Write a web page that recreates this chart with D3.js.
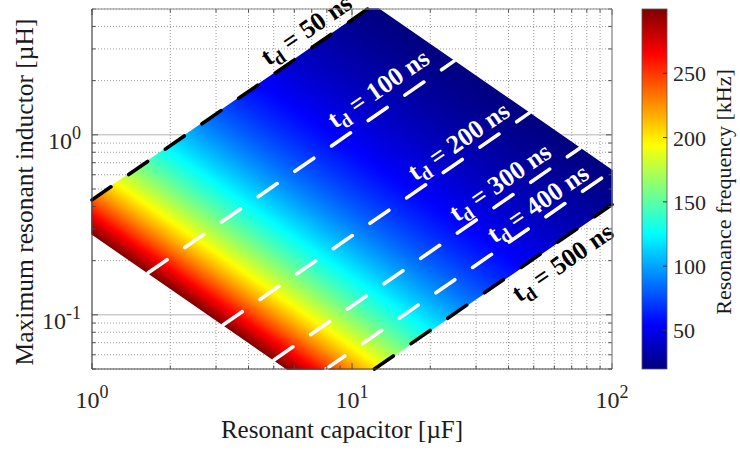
<!DOCTYPE html>
<html>
<head>
<meta charset="utf-8">
<script src="https://cdn.jsdelivr.net/npm/d3@7"></script>
<style>
  body { margin: 0; background: #fff; }
  svg text { font-family: "Liberation Serif", "Times New Roman", serif; white-space: pre; }
</style>
</head>
<body>
<svg id="chart" width="740" height="450"></svg>
<script>
// Resonant capacitor range [µF] and maximum resonant inductor range [µH]
const capacitorDomain = [1, 100];
const inductorDomain = [0.05, 5];
// Resonance frequency limits of the design space [kHz]
const frequencyLimits = [20, 300];
// Dead-time curves: dead time [ns] and the maximum inductor they allow at C = 1 µF [µH]
const deadTimes = [50, 100, 200, 300, 400, 500];
const inductorAt1uF = [0.435, 0.104, 0.0275, 0.0112, 0.0063, 0.0041];
// Tick values
const xTickExponents = [0, 1, 2];
const yTickExponents = [-1, 0];
const colorTicks = [50, 100, 150, 200, 250];

// Label placement along each dead-time curve (capacitor value at label centre, offset in px)
const labelPlacement = [
  { at: 7.3, offset: 9.5, color: "#000" },
  { at: 14.0, offset: 12, color: "#fff" },
  { at: 28.0, offset: 8.5, color: "#fff" },
  { at: 40.5, offset: 9, color: "#fff" },
  { at: 56.0, offset: 7, color: "#fff" },
  { at: 58.5, offset: -28, color: "#000" }
];
const lineColors = ["#000", "#fff", "#fff", "#fff", "#fff", "#000"];

const plot = { left: 92, right: 612, top: 9, bottom: 369 };
const bar = { left: 642, width: 25 };

const svg = d3.select("#chart");
const defs = svg.append("defs");

const x = d3.scaleLog().domain(capacitorDomain).range([plot.left, plot.right]);
const y = d3.scaleLog().domain(inductorDomain).range([plot.bottom, plot.top]);
const cbar = d3.scaleLinear().domain(frequencyLimits).range([plot.bottom, plot.top]);

// MATLAB-style jet colormap, t in [0, 1]
function jet(t) {
  const cl = v => Math.max(0, Math.min(1, v));
  const r = cl(1.5 - Math.abs(4 * t - 3));
  const g = cl(1.5 - Math.abs(4 * t - 2));
  const b = cl(1.5 - Math.abs(4 * t - 1));
  return d3.rgb(r * 255, g * 255, b * 255).formatHex();
}
const colorOf = f => jet((f - frequencyLimits[0]) / (frequencyLimits[1] - frequencyLimits[0]));

// L·C product [µH·µF] giving resonance frequency f [kHz]
const lcFromF = f => Math.pow(1e3 / (2 * Math.PI * f), 2);
const lg = Math.log10;

// ---------- grid ----------
const gridG = svg.append("g");
const xAll = x.ticks();
const yAll = y.ticks();
const isDecade = v => Math.abs(lg(v) - Math.round(lg(v))) < 1e-9;

gridG.selectAll("line.xminor").data(xAll.filter(v => !isDecade(v)))
  .join("line")
  .attr("x1", d => x(d)).attr("x2", d => x(d))
  .attr("y1", plot.top).attr("y2", plot.bottom)
  .attr("stroke", "#9a9a9a").attr("stroke-width", 1).attr("stroke-dasharray", "1,2");
gridG.selectAll("line.yminor").data(yAll.filter(v => !isDecade(v)))
  .join("line")
  .attr("y1", d => y(d)).attr("y2", d => y(d))
  .attr("x1", plot.left).attr("x2", plot.right)
  .attr("stroke", "#9a9a9a").attr("stroke-width", 1).attr("stroke-dasharray", "1,2");
gridG.selectAll("line.xmajor").data(xAll.filter(isDecade))
  .join("line")
  .attr("x1", d => x(d)).attr("x2", d => x(d))
  .attr("y1", plot.top).attr("y2", plot.bottom)
  .attr("stroke", "#b4b4b4").attr("stroke-width", 1);
gridG.selectAll("line.ymajor").data(yAll.filter(isDecade))
  .join("line")
  .attr("y1", d => y(d)).attr("y2", d => y(d))
  .attr("x1", plot.left).attr("x2", plot.right)
  .attr("stroke", "#b4b4b4").attr("stroke-width", 1);

// ---------- design region (log space half-plane clipping) ----------
const logK = inductorAt1uF.map(lg);
const uMin = lg(lcFromF(frequencyLimits[1]));
const uMax = lg(lcFromF(frequencyLimits[0]));
const aMin = lg(capacitorDomain[0]), aMax = lg(capacitorDomain[1]);
const bMin = lg(inductorDomain[0]), bMax = lg(inductorDomain[1]);

// each constraint: p*a + q*b <= r
const constraints = [
  [-1, 0, -aMin], [1, 0, aMax],
  [0, -1, -bMin], [0, 1, bMax],
  [-1, -1, -uMin], [1, 1, uMax],
  [-1, 1, d3.max(logK)], [1, -1, -d3.min(logK)]
];
let poly = [[aMin, bMin], [aMax, bMin], [aMax, bMax], [aMin, bMax]];
constraints.forEach(([p, q, r]) => {
  const out = [];
  const val = pt => p * pt[0] + q * pt[1] - r;
  for (let i = 0; i < poly.length; i++) {
    const A = poly[i], B = poly[(i + 1) % poly.length];
    const va = val(A), vb = val(B);
    if (va <= 0) out.push(A);
    if ((va < 0 && vb > 0) || (va > 0 && vb < 0)) {
      const t = va / (va - vb);
      out.push([A[0] + t * (B[0] - A[0]), A[1] + t * (B[1] - A[1])]);
    }
  }
  poly = out;
});
const regionPts = poly.map(([a, b]) => [x(Math.pow(10, a)), y(Math.pow(10, b))]);

// gradient running across lines of constant L·C
const pA = [x(1), y(Math.pow(10, uMin))];
const gx = 1 / (x(10) - x(1));
const gy = 1 / (y(10) - y(1));
const g2 = gx * gx + gy * gy;
const pB = [pA[0] + (uMax - uMin) * gx / g2, pA[1] + (uMax - uMin) * gy / g2];
const regionGrad = defs.append("linearGradient").attr("id", "regionGrad")
  .attr("gradientUnits", "userSpaceOnUse")
  .attr("x1", pA[0]).attr("y1", pA[1]).attr("x2", pB[0]).attr("y2", pB[1]);
const fSamples = d3.range(frequencyLimits[1], frequencyLimits[0] - 0.01, -2);
regionGrad.selectAll("stop").data(fSamples).join("stop")
  .attr("offset", f => (lg(lcFromF(f)) - uMin) / (uMax - uMin))
  .attr("stop-color", f => colorOf(f));

svg.append("path")
  .attr("d", d3.line()(regionPts) + "Z")
  .attr("fill", "url(#regionGrad)")
  .attr("stroke", "url(#regionGrad)")
  .attr("stroke-width", 1.5)
  .attr("stroke-linejoin", "round");

// ---------- dead-time curves ----------
const curves = deadTimes.map((td, i) => {
  const c = logK[i];
  const a0 = Math.max(aMin, bMin - c, (uMin - c) / 2);
  const a1 = Math.min(aMax, bMax - c, (uMax - c) / 2);
  return { td, i, pts: [[Math.pow(10, a0), Math.pow(10, a0 + c)], [Math.pow(10, a1), Math.pow(10, a1 + c)]] };
});
svg.append("g").selectAll("path").data(curves).join("path")
  .attr("d", d => d3.line().x(p => x(p[0])).y(p => y(p[1]))(d.pts))
  .attr("fill", "none")
  .attr("stroke", d => lineColors[d.i])
  .attr("stroke-width", 3.6)
  .attr("stroke-linecap", "round")
  .attr("stroke-dasharray", "23,21.6");

// ---------- curve labels ----------
const angle = Math.atan2(y(10) - y(1), x(10) - x(1)) * 180 / Math.PI;
const labelG = svg.append("g");
curves.forEach(d => {
  const lp = labelPlacement[d.i];
  const c = lp.at, l = c * inductorAt1uF[d.i];
  const t = labelG.append("text")
    .attr("transform", `translate(${x(c)},${y(l)}) rotate(${angle})`)
    .attr("x", 0).attr("y", -lp.offset)
    .attr("text-anchor", "middle")
    .attr("font-weight", "bold")
    .attr("font-size", 26)
    .attr("fill", lp.color);
  t.append("tspan").text("t");
  t.append("tspan").attr("dy", 6).attr("font-size", 19).text("d");
  t.append("tspan").attr("dy", -6).text(` = ${d.td} ns`);
});

// ---------- axes frame and ticks ----------
const frame = svg.append("g");
const tickCol = "#4d4d4d";
xAll.forEach(v => {
  const L = isDecade(v) ? 6 : 3.5;
  frame.append("line").attr("x1", x(v)).attr("x2", x(v)).attr("y1", plot.bottom).attr("y2", plot.bottom - L).attr("stroke", tickCol);
  frame.append("line").attr("x1", x(v)).attr("x2", x(v)).attr("y1", plot.top).attr("y2", plot.top + L).attr("stroke", tickCol);
});
yAll.forEach(v => {
  const L = isDecade(v) ? 6 : 3.5;
  frame.append("line").attr("y1", y(v)).attr("y2", y(v)).attr("x1", plot.left).attr("x2", plot.left + L).attr("stroke", tickCol);
  frame.append("line").attr("y1", y(v)).attr("y2", y(v)).attr("x1", plot.right).attr("x2", plot.right - L).attr("stroke", tickCol);
});
frame.append("line").attr("x1", plot.left).attr("x2", plot.right).attr("y1", plot.top).attr("y2", plot.top).attr("stroke", "#8c8c8c");
frame.append("line").attr("x1", plot.right).attr("x2", plot.right).attr("y1", plot.top).attr("y2", plot.bottom).attr("stroke", "#8c8c8c");
frame.append("line").attr("x1", plot.left).attr("x2", plot.right).attr("y1", plot.bottom).attr("y2", plot.bottom).attr("stroke", "#444");
frame.append("line").attr("x1", plot.left).attr("x2", plot.left).attr("y1", plot.top).attr("y2", plot.bottom).attr("stroke", "#444");

// tick labels
const txtCol = "#262626";
xTickExponents.forEach(e => {
  const t = frame.append("text").attr("x", x(Math.pow(10, e))).attr("y", 408)
    .attr("text-anchor", "middle").attr("font-size", 24).attr("fill", txtCol);
  t.append("tspan").text("10");
  t.append("tspan").attr("dy", -10).attr("font-size", 18).text(String(e));
});
yTickExponents.forEach(e => {
  const t = frame.append("text").attr("x", 81).attr("y", y(Math.pow(10, e)) + 14)
    .attr("text-anchor", "end").attr("font-size", 24).attr("fill", txtCol);
  t.append("tspan").text("10");
  t.append("tspan").attr("dy", -10).attr("font-size", 18).text(String(e));
});

// axis titles
svg.append("text").attr("x", 342).attr("y", 438).attr("text-anchor", "middle")
  .attr("font-size", 25).attr("fill", "#1a1a1a").text("Resonant capacitor [µF]");
svg.append("text").attr("transform", "translate(33,192) rotate(-90)").attr("text-anchor", "middle")
  .attr("font-size", 25.5).attr("fill", "#1a1a1a").text("Maximum resonant inductor [µH]");

// ---------- colorbar ----------
const barGrad = defs.append("linearGradient").attr("id", "barGrad")
  .attr("gradientUnits", "userSpaceOnUse")
  .attr("x1", 0).attr("y1", cbar(frequencyLimits[0])).attr("x2", 0).attr("y2", cbar(frequencyLimits[1]));
barGrad.selectAll("stop").data(d3.range(0, 1.0001, 0.02)).join("stop")
  .attr("offset", t => t).attr("stop-color", t => jet(t));
svg.append("rect").attr("x", bar.left).attr("y", plot.top)
  .attr("width", bar.width).attr("height", plot.bottom - plot.top)
  .attr("fill", "url(#barGrad)").attr("stroke", "#555").attr("stroke-width", 0.8);
const cbG = svg.append("g");
cbG.selectAll("line").data(colorTicks).join("line")
  .attr("x1", bar.left + bar.width).attr("x2", bar.left + bar.width - 4)
  .attr("y1", d => cbar(d)).attr("y2", d => cbar(d)).attr("stroke", "#333");
cbG.selectAll("text").data(colorTicks).join("text")
  .attr("x", bar.left + bar.width + 6).attr("y", d => cbar(d) + 8)
  .attr("font-size", 22).attr("fill", txtCol).text(d => d);
svg.append("text").attr("transform", "translate(731,192) rotate(-90)").attr("text-anchor", "middle")
  .attr("font-size", 22).attr("fill", "#1a1a1a").text("Resonance frequency [kHz]");
</script>
</body>
</html>
